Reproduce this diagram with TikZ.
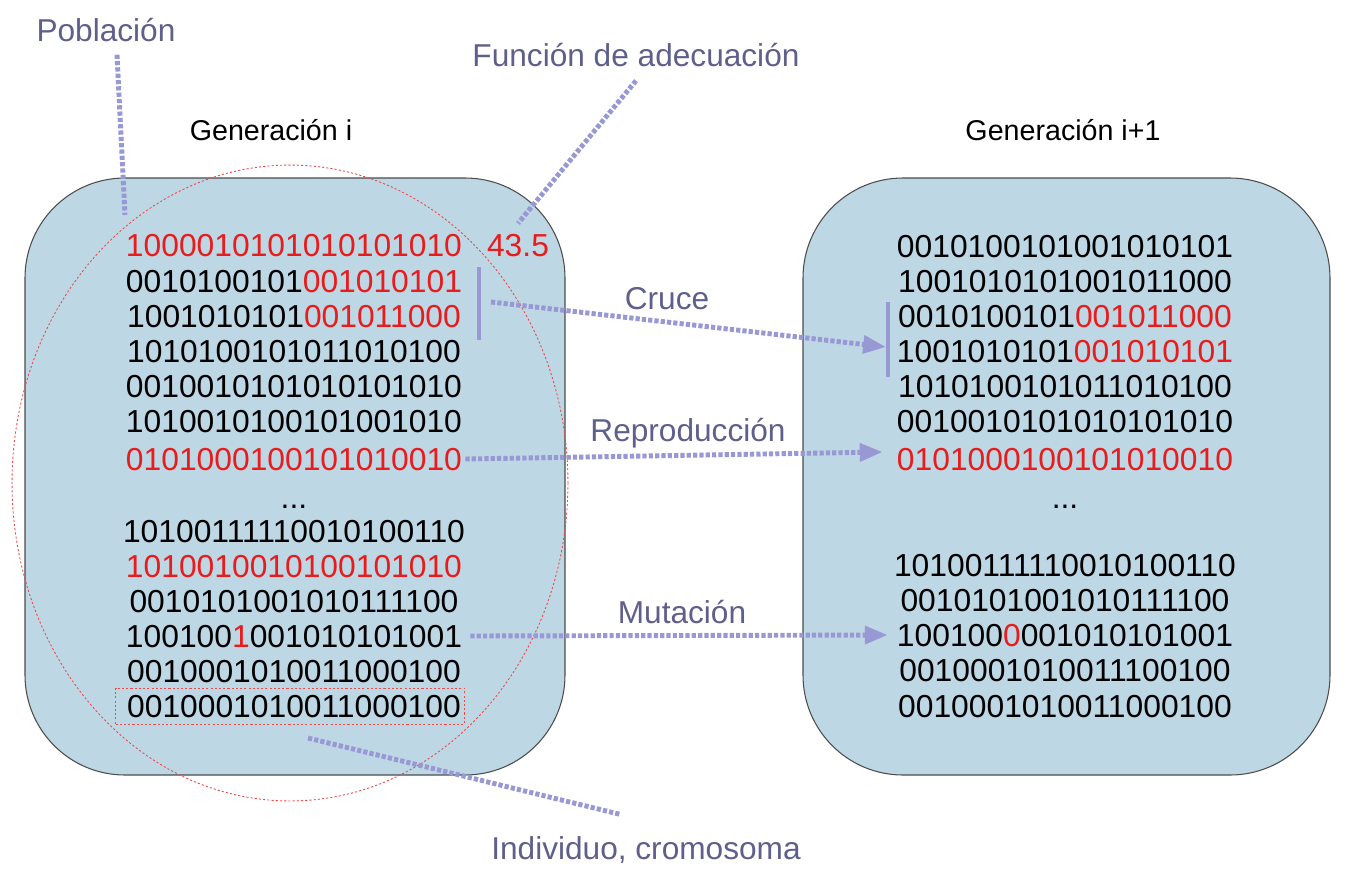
\documentclass[tikz,border=0pt]{standalone}
\usepackage{fontspec}
\setmainfont{Liberation Sans}
\usetikzlibrary{arrows.meta}
\definecolor{cajafondo}{RGB}{190,215,228}
\definecolor{lila}{RGB}{152,152,212}
\definecolor{rotulo}{RGB}{95,95,140}
\definecolor{rojo}{RGB}{232,28,28}
\newcommand{\rj}[1]{\textcolor{rojo}{#1}}
\begin{document}
\begin{tikzpicture}[x=0.02cm,y=-0.02cm,
    every node/.style={font=\fontsize{18.1}{21}\selectfont, inner sep=0pt},
    fila/.style={text height=12.9pt, text depth=0pt},
    titulo/.style={font=\fontsize{16.3}{20}\selectfont},
    caja/.style={draw=black!70, fill=cajafondo, rounded corners=2cm, line width=0.6pt},
    guia/.style={draw=lila, line width=2.8pt, dash pattern=on 2.4pt off 1.2pt},
    flecha/.style={guia, -{Triangle[length=13pt,width=10pt]}},
    barra/.style={draw=lila, line width=2.4pt},
    rotulo/.style={text=rotulo, font=\fontsize{18}{21}\selectfont}]
  \useasboundingbox (0,0) rectangle (1350,870);
  \draw[caja] (25,178) rectangle (565,775);
  \draw[caja] (803,178) rectangle (1330,775);
  \draw[rojo!80, line width=0.5pt, dash pattern=on 1.2pt off 1.2pt]
    (290,483) ellipse (5.56cm and 6.36cm);
  \draw
    (271,130) node[titulo] (gen0){Generación i}
    (1063,130) node[titulo] (gen1){Generación i+1};
  \draw
    (294,245) node[fila] (a1){\rj{1000010101010101010}}
    (294,281) node[fila] (a2){0010100101\rj{001010101}}
    (294,316) node[fila] (a3){1001010101\rj{001011000}}
    (294,351) node[fila] (a4){1010100101011010100}
    (294,386) node[fila] (a5){0010010101010101010}
    (294,421) node[fila] (a6){1010010100101001010}
    (294,459) node[fila] (a7){\rj{0101000100101010010}}
    (294,497) node[fila] (a8){...}
    (294,531) node[fila] (a9){10100111110010100110}
    (294,566) node[fila] (a10){\rj{1010010010100101010}}
    (294,601) node[fila] (a11){0010101001010111100}
    (294,636) node[fila] (a12){100100\rj{1}001010101001}
    (294,671) node[fila] (a13){0010001010011000100}
    (294,706) node[fila] (a14){0010001010011000100}
    (518,245) node[fila] (nota){\rj{43.5}};
  \draw
    (1065,246) node[fila] (b1){0010100101001010101}
    (1065,281) node[fila] (b2){1001010101001011000}
    (1065,316) node[fila] (b3){0010100101\rj{001011000}}
    (1065,351) node[fila] (b4){1001010101\rj{001010101}}
    (1065,386) node[fila] (b5){1010100101011010100}
    (1065,421) node[fila] (b6){0010010101010101010}
    (1065,459) node[fila] (b7){\rj{0101000100101010010}}
    (1065,497) node[fila] (b8){...}
    (1065,565) node[fila] (b9){10100111110010100110}
    (1065,600) node[fila] (b10){0010101001010111100}
    (1065,635) node[fila] (b11){100100\rj{0}001010101001}
    (1065,670) node[fila] (b12){0010001010011100100}
    (1065,706) node[fila] (b13){0010001010011000100};
  \node[draw=rojo!80, line width=0.5pt, dash pattern=on 1.2pt off 1.2pt,
    minimum width=6.98cm, minimum height=0.72cm] (indiv) at (290,706) {};
  % rotulos
  \draw
    (106,30) node[fila,rotulo] (pob){Población}
    (636,55) node[fila,rotulo] (fun){Función de adecuación}
    (667,298) node[fila,rotulo] (cruce){Cruce}
    (688,430) node[fila,rotulo] (repro){Reproducción}
    (682,612) node[fila,rotulo] (muta){Mutación}
    (646,848) node[fila,rotulo] (crom){Individuo, cromosoma};
  \coordinate (barA1) at (479,267);
  \coordinate (barA2) at (479,340);
  \coordinate (barB1) at (888,302);
  \coordinate (barB2) at (888,377);
  \coordinate (cruceA) at (491,302);
  \coordinate (cruceB) at (886,347);
  \coordinate (pobfin) at (125,215);
  \coordinate (crominicio) at (308,738);
  \begin{scope}
    \draw[barra] (barA1) to (barA2);
    \draw[barra] (barB1) to (barB2);
    \draw[flecha] (cruceA) to (cruceB);
    \draw[flecha] ([xshift=0.06cm]a7.east) to ([xshift=-0.28cm,yshift=0.14cm]b7.west);
    \draw[flecha] ([xshift=0.16cm]a12.east) to ([xshift=-0.18cm]b11.west);
    \draw[guia] ([xshift=0.22cm,yshift=-0.26cm]pob.south) to (pobfin);
    \draw[guia] ([yshift=-0.28cm]fun.south) to ([yshift=0.2cm]nota.north);
    \draw[guia] (crominicio) to ([xshift=-0.52cm,yshift=0.44cm]crom.north);
  \end{scope}
\end{tikzpicture}
\end{document}
